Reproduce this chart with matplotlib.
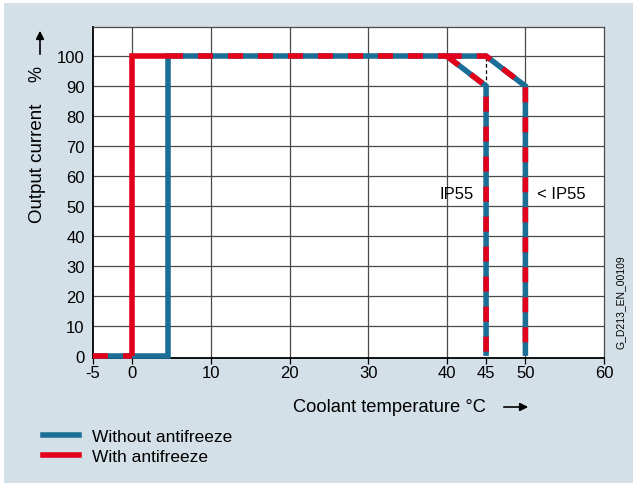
import matplotlib.pyplot as plt
from matplotlib.patches import Rectangle, FancyArrowPatch
from matplotlib.lines import Line2D

plt.rcParams['font.family'] = ['Liberation Sans', 'DejaVu Sans']
plt.rcParams['axes.unicode_minus'] = False

# data
temp_without = [-5, 4.5, 4.5, 40]
current_without = [0, 0, 100, 100]
temp_with = [-5, 0, 0, 40]
current_with = [0, 0, 100, 100]
temp_ip55 = [40, 45, 45]
current_ip55 = [100, 90, 0]
temp_lt_ip55 = [40, 45, 50, 50]
current_lt_ip55 = [100, 100, 90, 0]
xticks = [-5, 0, 10, 20, 30, 40, 45, 50, 60]
xgrid = [0, 10, 20, 30, 40, 50]
yticks = list(range(0, 101, 10))

BLUE = '#1b6f96'
RED = '#e2001a'
BG = '#d4e0e7'
LW = 4.0

fig = plt.figure(figsize=(6.4, 4.89), dpi=100, facecolor='white')
fig.patches.append(Rectangle((4/640, 5/489), 629/640, 480/489, transform=fig.transFigure,
                             facecolor=BG, edgecolor='none', zorder=-10))
ax = fig.add_axes([93/640, 1 - 359/489, 511/640, 331/489])
ax.set_facecolor('white')
ax.set_xlim(-5, 60)
ax.set_ylim(-0.7, 109.7)

for x in xgrid:
    ax.axvline(x, color='#4a4a4a', lw=0.9, zorder=1)
for y in yticks[1:]:
    ax.axhline(y, color='#4a4a4a', lw=0.9, zorder=1)
ax.vlines(temp_ip55[1], current_ip55[1], current_lt_ip55[1], colors='black',
          linestyles=(0, (3, 2)), lw=0.9, zorder=1)

# blue (without antifreeze): solid everywhere
for xs, ys in [(temp_without, current_without), (temp_ip55, current_ip55),
               (temp_lt_ip55, current_lt_ip55)]:
    ax.plot(xs, ys, color=BLUE, lw=LW, solid_joinstyle='miter', solid_capstyle='butt',
            zorder=3, clip_on=False)

# red (with antifreeze): dashed where it overlaps blue, solid where it is alone
dash = dict(color=RED, lw=LW, linestyle=(0, (2.7, 2.7)), dash_capstyle='butt', zorder=4,
            clip_on=False)
ax.plot(temp_with[:2], current_with[:2], **dash)
ax.plot([temp_without[2], temp_with[3]], current_with[2:], **dash)
ax.plot(temp_ip55, current_ip55, **dash)
ax.plot(temp_lt_ip55, current_lt_ip55, **dash)
ax.plot(temp_with[1:3] + [temp_without[2]], current_with[1:3] + [current_with[2]],
        color=RED, lw=LW, solid_joinstyle='miter', solid_capstyle='butt', zorder=4)

ax.text(43.4, 54, 'IP55', ha='right', va='center', fontsize=12)
ax.text(51.5, 54, '< IP55', ha='left', va='center', fontsize=12)

ax.set_xticks(xticks)
ax.set_yticks(yticks)
ax.tick_params(axis='x', direction='out', length=4, width=0.9, labelsize=12, pad=1)
ax.tick_params(axis='y', length=0, labelsize=12, pad=6)
for s in ['left', 'bottom']:
    ax.spines[s].set_color('black')
    ax.spines[s].set_linewidth(1.3)
for s in ['top', 'right']:
    ax.spines[s].set_color('#4a4a4a')
    ax.spines[s].set_linewidth(0.9)

# axis labels with arrows
fig.text(37/640, 1 - 163/489, 'Output current', rotation=90, ha='center', va='center', fontsize=13.5)
fig.text(37/640, 1 - 74/489, '%', rotation=90, ha='center', va='center', fontsize=13)
fig.add_artist(FancyArrowPatch(
    (40/640, 1 - 58/489), (40/640, 1 - 29/489), transform=fig.transFigure,
    arrowstyle='-|>', mutation_scale=12, lw=1.2, color='black'))
fig.text(293/640, 1 - 408/489, 'Coolant temperature °C', ha='left', va='center', fontsize=13.2)
fig.add_artist(FancyArrowPatch(
    (501/640, 1 - 408/489), (531/640, 1 - 408/489), transform=fig.transFigure,
    arrowstyle='-|>', mutation_scale=12, lw=1.2, color='black'))
fig.text(621/640, 1 - 302/489, 'G_D213_EN_00109', rotation=90, ha='center', va='center',
         fontsize=7.5)

handles = [Line2D([], [], color=BLUE, lw=LW), Line2D([], [], color=RED, lw=LW)]
fig.legend(handles, ['Without antifreeze', 'With antifreeze'], loc='upper left',
           bbox_to_anchor=(36/640, 1 - 423/489), frameon=False, fontsize=12.5,
           handlelength=2.1, handletextpad=0.75, labelspacing=0.25, borderaxespad=0)

fig.savefig('out.png', dpi=100, facecolor='white')
